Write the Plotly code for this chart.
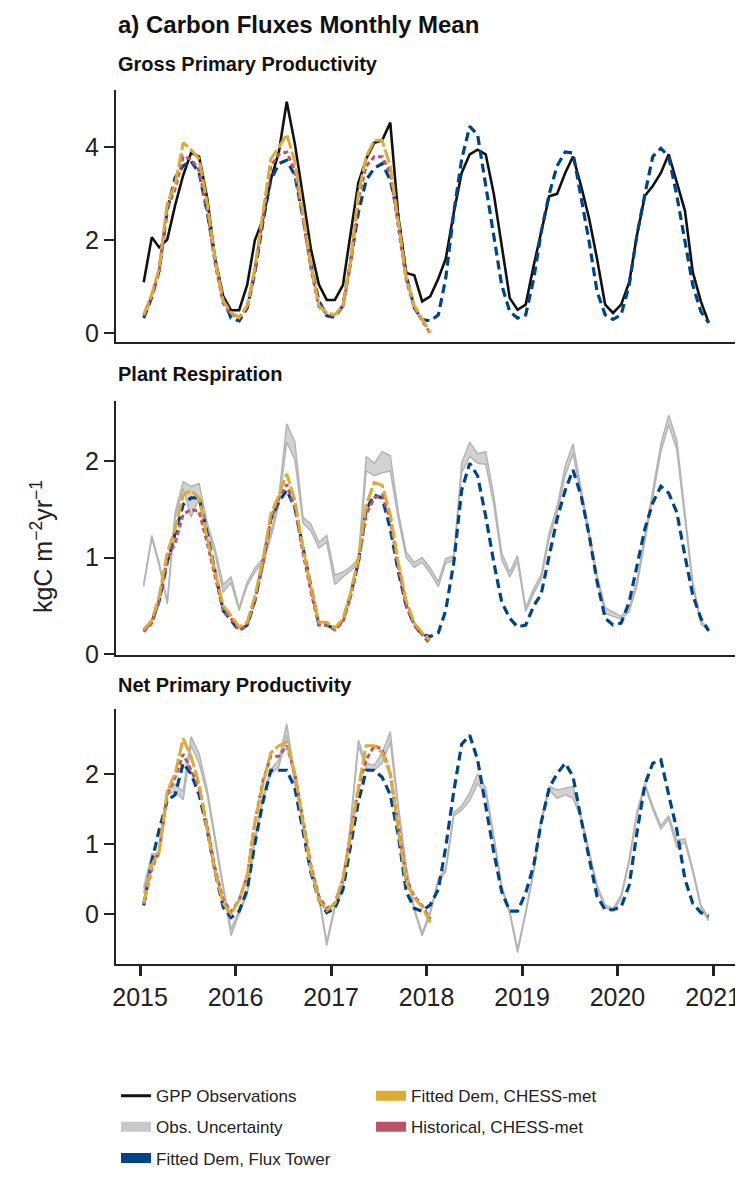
import plotly.graph_objects as go

# ---------------- data ----------------
years = [2015, 2016, 2017, 2018, 2019, 2020]
months = [f"{y}-{m:02d}-15" for y in years for m in range(1, 13)]   # 72 monthly dates
months_chess = months[:37]                                           # Jan 2015 - Jan 2018
year_ticks = ["2015-01-01", "2016-01-01", "2017-01-01", "2018-01-01",
              "2019-01-01", "2020-01-01", "2021-01-01"]
year_labels = ["2015", "2016", "2017", "2018", "2019", "2020", "2021"]

# Gross Primary Productivity
gpp_obs = [1.10, 2.07, 1.85, 2.02, 2.75, 3.40, 3.88, 3.80, 2.90, 1.60, 0.80, 0.50,
           0.50, 1.05, 2.00, 2.45, 3.30, 3.90, 4.98, 4.08, 2.95, 1.83, 1.05, 0.72,
           0.72, 1.04, 2.10, 3.24, 3.75, 4.10, 4.15, 4.53, 2.50, 1.30, 1.25, 0.69,
           0.80, 1.18, 1.60, 2.60, 3.45, 3.85, 3.95, 3.85, 3.00, 1.90, 0.76, 0.51,
           0.62, 1.47, 2.17, 2.95, 3.00, 3.45, 3.80, 3.17, 2.46, 1.60, 0.62, 0.44,
           0.62, 1.10, 2.10, 2.96, 3.17, 3.45, 3.85, 3.24, 2.64, 1.32, 0.69, 0.23]
gpp_flux = [0.33, 0.78, 1.35, 2.65, 3.35, 3.60, 3.70, 3.45, 2.60, 1.60, 0.75, 0.33,
            0.27, 0.55, 1.30, 2.40, 3.30, 3.65, 3.72, 3.40, 2.50, 1.50, 0.70, 0.38,
            0.35, 0.60, 1.50, 2.60, 3.30, 3.55, 3.65, 3.30, 2.50, 1.25, 0.55, 0.30,
            0.27, 0.40, 1.18, 2.60, 3.74, 4.45, 4.27, 3.17, 2.10, 1.04, 0.47, 0.33,
            0.40, 1.18, 2.17, 3.00, 3.60, 3.90, 3.88, 2.96, 1.96, 0.90, 0.40, 0.30,
            0.40, 1.04, 2.10, 3.00, 3.80, 3.98, 3.80, 2.96, 1.96, 1.04, 0.47, 0.23]
gpp_chess_fit = [0.40, 0.85, 1.40, 2.80, 3.20, 4.10, 3.95, 3.75, 2.80, 1.60, 0.70, 0.45,
                 0.35, 0.60, 1.40, 2.60, 3.75, 4.00, 4.28, 3.70, 2.60, 1.50, 0.60, 0.45,
                 0.40, 0.60, 1.50, 3.00, 3.80, 4.15, 4.15, 3.60, 2.40, 1.20, 0.60, 0.30, 0.02]
gpp_chess_hist = [0.38, 0.80, 1.35, 2.70, 3.10, 3.80, 3.75, 3.50, 2.65, 1.50, 0.65, 0.42,
                  0.33, 0.58, 1.35, 2.50, 3.60, 3.85, 3.90, 3.50, 2.50, 1.40, 0.58, 0.42,
                  0.38, 0.58, 1.45, 2.90, 3.60, 3.80, 3.80, 3.45, 2.30, 1.15, 0.55, 0.28, 0.00]

# Plant Respiration
ra_obs_hi = [0.73, 1.23, 0.95, 0.54, 1.47, 1.79, 1.74, 1.77, 1.36, 1.09, 0.72, 0.80,
             0.48, 0.75, 0.89, 0.99, 1.25, 1.64, 2.39, 2.20, 1.42, 1.35, 1.16, 1.23,
             0.82, 0.85, 0.90, 0.99, 2.05, 1.98, 2.10, 2.06, 1.47, 1.06, 0.95, 1.00,
             0.89, 0.75, 0.99, 1.02, 1.98, 2.20, 2.08, 2.10, 1.64, 1.05, 0.85, 1.02,
             0.48, 0.68, 0.82, 1.26, 1.53, 1.95, 2.18, 1.71, 1.26, 0.82, 0.48, 0.44,
             0.39, 0.48, 0.75, 1.23, 1.71, 2.18, 2.48, 2.22, 1.47, 0.75, 0.34, 0.27]
ra_obs_lo = [0.70, 1.20, 0.92, 0.52, 1.42, 1.72, 1.42, 1.62, 1.30, 1.04, 0.64, 0.74,
             0.45, 0.71, 0.85, 0.95, 1.20, 1.55, 2.20, 2.02, 1.36, 1.28, 1.10, 1.16,
             0.72, 0.80, 0.86, 0.94, 1.90, 1.85, 1.88, 1.90, 1.40, 1.00, 0.90, 0.95,
             0.84, 0.70, 0.94, 0.97, 1.88, 2.05, 1.98, 1.97, 1.55, 0.98, 0.80, 0.96,
             0.44, 0.63, 0.77, 1.20, 1.46, 1.85, 2.08, 1.62, 1.20, 0.77, 0.42, 0.39,
             0.36, 0.44, 0.70, 1.17, 1.62, 2.10, 2.38, 2.12, 1.40, 0.70, 0.31, 0.24]
ra_flux = [0.25, 0.33, 0.55, 0.95, 1.25, 1.55, 1.62, 1.62, 1.25, 0.85, 0.45, 0.35,
           0.24, 0.30, 0.55, 0.95, 1.40, 1.58, 1.70, 1.52, 1.12, 0.70, 0.30, 0.30,
           0.26, 0.35, 0.60, 0.95, 1.50, 1.65, 1.62, 1.30, 0.85, 0.50, 0.30, 0.20,
           0.18, 0.22, 0.45, 0.95, 1.70, 1.98, 1.85, 1.43, 0.95, 0.54, 0.37, 0.28,
           0.30, 0.50, 0.62, 1.02, 1.40, 1.70, 1.91, 1.64, 1.23, 0.75, 0.37, 0.30,
           0.32, 0.54, 0.89, 1.30, 1.57, 1.74, 1.67, 1.47, 1.02, 0.61, 0.37, 0.24]
ra_chess_fit = [0.25, 0.35, 0.60, 1.05, 1.30, 1.65, 1.70, 1.62, 1.20, 0.85, 0.50, 0.40,
                0.28, 0.33, 0.60, 0.98, 1.45, 1.65, 1.87, 1.60, 1.10, 0.70, 0.33, 0.33,
                0.27, 0.36, 0.62, 1.00, 1.55, 1.78, 1.75, 1.45, 0.95, 0.55, 0.32, 0.22, 0.14]
ra_chess_hist = [0.23, 0.32, 0.55, 0.98, 1.15, 1.45, 1.50, 1.48, 1.15, 0.80, 0.45, 0.37,
                 0.25, 0.30, 0.55, 0.93, 1.40, 1.62, 1.76, 1.52, 1.05, 0.65, 0.30, 0.30,
                 0.25, 0.33, 0.58, 0.95, 1.45, 1.62, 1.65, 1.40, 0.90, 0.50, 0.30, 0.20, 0.10]

# Net Primary Productivity
npp_obs_hi = [0.38, 0.86, 0.86, 1.77, 1.85, 1.75, 2.53, 2.29, 1.77, 1.07, 0.41, -0.22,
              0.04, 0.32, 1.07, 1.68, 2.06, 2.20, 2.71, 1.98, 1.35, 0.70, 0.27, -0.40,
              0.13, 0.41, 1.26, 2.48, 2.15, 2.12, 2.30, 2.60, 1.54, 0.69, 0.08, -0.27,
              0.04, 0.51, 0.65, 1.45, 1.54, 1.73, 2.00, 1.80, 1.12, 0.41, 0.04, -0.50,
              0.04, 0.65, 1.35, 1.82, 1.77, 1.80, 1.82, 1.40, 0.88, 0.41, 0.13, 0.08,
              0.27, 0.79, 1.45, 1.87, 1.54, 1.26, 1.40, 1.05, 1.07, 0.65, 0.13, -0.06]
npp_obs_lo = [0.30, 0.80, 0.82, 1.70, 1.75, 1.63, 2.40, 2.15, 1.70, 1.02, 0.36, -0.31,
              0.00, 0.28, 1.02, 1.62, 2.00, 2.10, 2.55, 1.85, 1.28, 0.65, 0.22, -0.45,
              0.08, 0.36, 1.20, 2.40, 2.08, 2.05, 2.15, 2.45, 1.48, 0.64, 0.04, -0.31,
              0.00, 0.46, 0.60, 1.40, 1.48, 1.62, 1.86, 1.72, 1.07, 0.36, 0.00, -0.55,
              0.00, 0.60, 1.30, 1.77, 1.65, 1.70, 1.65, 1.35, 0.83, 0.36, 0.09, 0.04,
              0.22, 0.74, 1.40, 1.82, 1.49, 1.21, 1.35, 0.95, 1.02, 0.60, 0.09, -0.10]
npp_flux = [0.12, 0.75, 1.20, 1.62, 1.70, 2.15, 2.00, 1.70, 1.20, 0.60, 0.10, -0.05,
            0.04, 0.35, 1.00, 1.60, 2.05, 2.05, 2.05, 1.80, 1.20, 0.60, 0.20, 0.02,
            0.08, 0.35, 0.95, 1.60, 2.05, 2.05, 1.95, 1.70, 1.12, 0.32, 0.08, 0.04,
            0.13, 0.35, 0.95, 1.75, 2.42, 2.55, 2.20, 1.54, 0.88, 0.32, 0.04, 0.04,
            0.30, 0.70, 1.30, 1.80, 2.00, 2.15, 1.96, 1.35, 0.80, 0.25, 0.06, 0.06,
            0.10, 0.41, 1.15, 1.85, 2.15, 2.20, 1.70, 1.20, 0.50, 0.15, 0.02, -0.03]
npp_chess_fit = [0.15, 0.70, 0.90, 1.75, 2.00, 2.50, 2.25, 1.85, 1.20, 0.60, 0.15, 0.00,
                 0.20, 0.55, 1.30, 1.85, 2.30, 2.40, 2.45, 2.00, 1.30, 0.65, 0.20, 0.05,
                 0.15, 0.50, 1.10, 1.80, 2.40, 2.40, 2.30, 2.00, 1.20, 0.45, 0.23, 0.10, -0.12]
npp_chess_hist = [0.15, 0.65, 0.90, 1.70, 1.95, 2.28, 2.05, 1.80, 1.25, 0.65, 0.20, 0.03,
                  0.20, 0.55, 1.30, 1.90, 2.25, 2.25, 2.40, 2.00, 1.35, 0.70, 0.25, 0.08,
                  0.15, 0.50, 1.10, 1.80, 2.20, 2.40, 2.35, 2.00, 1.25, 0.50, 0.25, 0.12, -0.08]

# ---------------- styles ----------------
C_OBS = "#111111"
C_UNC_FILL = "#d2d2d2"
C_UNC_LINE = "#b4b4b4"
C_FLUX = "#004488"
C_FIT = "#DDAA33"
C_HIST = "#BB5566"
FONT = "Liberation Sans, Arial, sans-serif"
H = 1191

fig = go.Figure()


def add_models(xa, ya, flux, fit, hist):
    fig.add_trace(go.Scatter(x=months, y=flux, mode="lines", xaxis=xa, yaxis=ya,
                             line=dict(color=C_FLUX, width=3.2, dash="9px,5px"),
                             showlegend=False, hoverinfo="skip"))
    fig.add_trace(go.Scatter(x=months_chess, y=hist, mode="lines", xaxis=xa, yaxis=ya,
                             line=dict(color=C_HIST, width=3, dash="5px,3px"),
                             showlegend=False, hoverinfo="skip"))
    fig.add_trace(go.Scatter(x=months_chess, y=fit, mode="lines", xaxis=xa, yaxis=ya,
                             line=dict(color=C_FIT, width=3, dash="14px,3px"),
                             showlegend=False, hoverinfo="skip"))


def add_band(xa, ya, lo, hi):
    fig.add_trace(go.Scatter(x=months, y=lo, mode="lines", xaxis=xa, yaxis=ya,
                             line=dict(color=C_UNC_LINE, width=1.5),
                             showlegend=False, hoverinfo="skip"))
    fig.add_trace(go.Scatter(x=months, y=hi, mode="lines", xaxis=xa, yaxis=ya,
                             fill="tonexty", fillcolor=C_UNC_FILL,
                             line=dict(color=C_UNC_LINE, width=1.5),
                             showlegend=False, hoverinfo="skip"))


# panel 1: GPP
fig.add_trace(go.Scatter(x=months, y=gpp_obs, mode="lines", xaxis="x", yaxis="y",
                         line=dict(color=C_OBS, width=2.6), showlegend=False,
                         hoverinfo="skip"))
add_models("x", "y", gpp_flux, gpp_chess_fit, gpp_chess_hist)
# panel 2: plant respiration
add_band("x2", "y2", ra_obs_lo, ra_obs_hi)
add_models("x2", "y2", ra_flux, ra_chess_fit, ra_chess_hist)
# panel 3: NPP
add_band("x3", "y3", npp_obs_lo, npp_obs_hi)
add_models("x3", "y3", npp_flux, npp_chess_fit, npp_chess_hist)

# legend entries
legend_items = [
    ("GPP Observations", C_OBS, 3, "legend"),
    ("Obs. Uncertainty", "#c8c8c8", 14, "legend"),
    ("Fitted Dem, Flux Tower", C_FLUX, 14, "legend"),
    ("Fitted Dem, CHESS-met", C_FIT, 14, "legend2"),
    ("Historical, CHESS-met", C_HIST, 14, "legend2"),
]
for name, col, w, lg in legend_items:
    fig.add_trace(go.Scatter(x=[None], y=[None], mode="lines", name=name,
                             line=dict(color=col, width=w), legend=lg,
                             legendgroup=name, showlegend=True,
                             xaxis="x", yaxis="y"))


def ydom(top_px, bot_px):
    return [1 - bot_px / H, 1 - top_px / H]


xrange_ = ["2014-10-01", "2021-04-06"]
axis_line = dict(showline=True, linewidth=2, linecolor="#222222", showgrid=False,
                 zeroline=False)
xcommon = dict(type="date", range=xrange_, **axis_line)
ycommon = dict(ticks="outside", ticklen=10, tickwidth=2, tickcolor="#222222",
               tickfont=dict(size=25, color="#222222", family=FONT), **axis_line)

fig.update_layout(
    width=743, height=H,
    margin=dict(l=108, r=13, t=0, b=0),
    paper_bgcolor="white", plot_bgcolor="white",
    font=dict(family=FONT, color="#222222"),
    xaxis=dict(anchor="y", domain=[0, 1], ticks="", showticklabels=False, **xcommon),
    xaxis2=dict(anchor="y2", domain=[0, 1], ticks="", showticklabels=False, **xcommon),
    xaxis3=dict(anchor="y3", domain=[0, 1], ticks="outside", ticklen=10, tickwidth=2.5,
                tickcolor="#222222", tickvals=year_ticks, ticktext=year_labels,
                tickfont=dict(size=25, color="#222222", family=FONT), **xcommon),
    yaxis=dict(anchor="x", domain=ydom(83, 338), range=[-0.19, 5.23],
               tickvals=[0, 2, 4], **ycommon),
    yaxis2=dict(anchor="x2", domain=ydom(397, 654), range=[-0.01, 2.63],
                tickvals=[0, 1, 2], **ycommon),
    yaxis3=dict(anchor="x3", domain=ydom(709, 967), range=[-0.72, 2.92],
                tickvals=[0, 1, 2], **ycommon),
    legend=dict(x=0.0, y=1 - 1082 / H, xanchor="left", yanchor="top",
                orientation="v", tracegroupgap=6, bgcolor="rgba(0,0,0,0)",
                font=dict(size=17, color="#222222", family=FONT)),
    legend2=dict(x=0.41, y=1 - 1082 / H, xanchor="left", yanchor="top",
                 orientation="v", tracegroupgap=6, bgcolor="rgba(0,0,0,0)",
                 font=dict(size=17, color="#222222", family=FONT)),
    showlegend=True,
)

annotations = [
    dict(text="<b>a) Carbon Fluxes Monthly Mean</b>", x=0, y=1 - 17 / H,
         font=dict(size=24)),
    dict(text="<b>Gross Primary Productivity</b>", x=0, y=1 - 57 / H,
         font=dict(size=20)),
    dict(text="<b>Plant Respiration</b>", x=0, y=1 - 370 / H, font=dict(size=20)),
    dict(text="<b>Net Primary Productivity</b>", x=0, y=1 - 684 / H,
         font=dict(size=20)),
]
for a in annotations:
    fig.add_annotation(xref="paper", yref="paper", xanchor="left", yanchor="middle",
                       showarrow=False, x=a["x"], y=a["y"], text=a["text"],
                       font=dict(family=FONT, color="#111111", size=a["font"]["size"]))

fig.add_annotation(xref="paper", yref="paper", x=(34 - 108) / 622, y=1 - 545 / H,
                   text="kgC m<sup>−2</sup>yr<sup>−1</sup>", textangle=-90,
                   showarrow=False, xanchor="center", yanchor="middle",
                   font=dict(family=FONT, size=25, color="#222222"))

fig.write_html("out.html")
